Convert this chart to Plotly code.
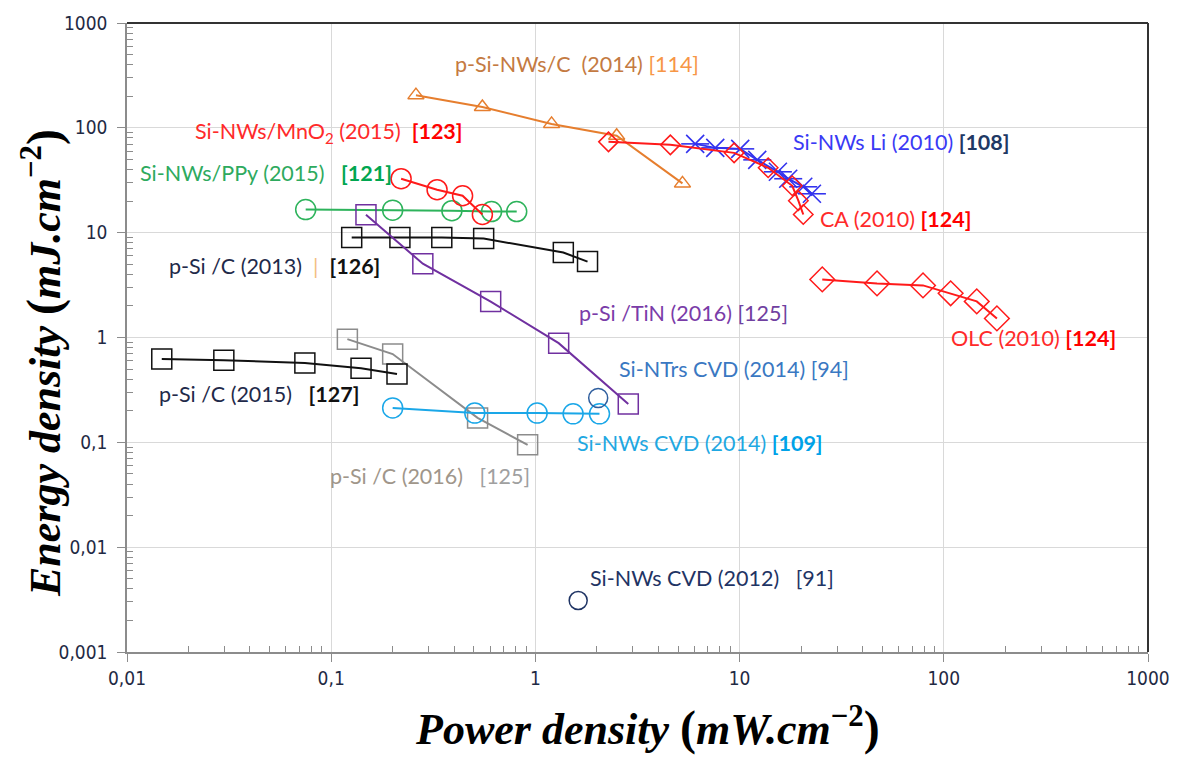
import plotly.graph_objects as go

# ---------------- data ----------------
psinwc_x = [0.26, 0.55, 1.2, 2.5, 5.25]
psinwc_y = [205, 158, 109, 84, 29.5]

mno2_x = [0.22, 0.33, 0.44, 0.55]
mno2_y = [32.7, 25.7, 22.5, 14.9]

ppy_x = [0.075, 0.2, 0.39, 0.61, 0.81]
ppy_y = [16.6, 16.4, 16.2, 15.9, 15.9]

psic2013_x = [0.126, 0.217, 0.348, 0.558, 1.37, 1.8]
psic2013_y = [9.0, 9.0, 9.0, 8.8, 6.46, 5.3]

tin_x = [0.148, 0.281, 0.604, 1.3, 2.85]
tin_y = [14.8, 5.06, 2.2, 0.883, 0.232]

li_x = [6.06, 7.6, 10.07, 12.2, 15.4, 17.3, 20.5, 22.6]
li_y = [70.3, 64.4, 63, 49.5, 38.1, 32.7, 27.4, 23.5]

ca_x = [2.28, 4.58, 9.4, 13.8, 18.1, 19.4, 20.5]
ca_y = [73.5, 68.8, 57.7, 41.6, 28, 20.2, 14.9]

olc_x = [25.4, 47.1, 79.1, 108, 145, 182]
olc_y = [3.58, 3.28, 3.14, 2.64, 2.21, 1.52]

ntrs_x = [2.03]
ntrs_y = [0.265]

cvd2014_x = [0.2, 0.505, 1.02, 1.53, 2.06]
cvd2014_y = [0.213, 0.19, 0.19, 0.187, 0.187]

psic2016_x = [0.12, 0.2, 0.521, 0.916]
psic2016_y = [0.964, 0.695, 0.171, 0.0946]

psic2015_x = [0.0148, 0.0298, 0.0743, 0.14, 0.21]
psic2015_y = [0.622, 0.608, 0.57, 0.51, 0.448]

cvd2012_x = [1.62]
cvd2012_y = [0.0031]

x_tickvals = [0.01, 0.1, 1, 10, 100, 1000]
x_ticktext = ["0,01", "0,1", "1", "10", "100", "1000"]
y_tickvals = [0.001, 0.01, 0.1, 1, 10, 100, 1000]
y_ticktext = ["0,001", "0,01", "0,1", "1", "10", "100", "1000"]

# ---------------- figure ----------------
W, H = 1182, 758
L, R, T, B = 127, 33, 21, 106
PW, PH = W - L - R, H - T - B

fig = go.Figure()


def series(x, y, color, symbol, size, lw=2, mode="lines+markers", mlw=1.5):
    fig.add_trace(go.Scatter(
        x=x, y=y, mode=mode,
        line=dict(color=color, width=lw),
        marker=dict(symbol=symbol, size=size, color=color,
                    line=dict(color=color, width=mlw)),
        showlegend=False, hoverinfo="skip"))


series(psinwc_x, psinwc_y, "#E67E2E", "triangle-up-open", 14)
series(ppy_x, ppy_y, "#2DB35B", "circle-open", 20)
series(psic2013_x, psic2013_y, "#111111", "square-open", 20)
series(tin_x, tin_y, "#7030A0", "square-open", 20)
series(mno2_x, mno2_y, "#FF1A1A", "circle-open", 20)
# star markers: X + horizontal bar
series(li_x, li_y, "#3333EE", "x-thin-open", 18, mlw=1.6)
series(li_x, li_y, "#3333EE", "line-ew-open", 20, lw=0, mode="markers", mlw=1.6)
series(ca_x, ca_y, "#FF1A1A", "diamond-open", 15)
series(olc_x, olc_y, "#FF1A1A", "diamond-open", 19)
series(psic2016_x, psic2016_y, "#8C8C8C", "square-open", 20)
series(psic2015_x, psic2015_y, "#111111", "square-open", 20)
series(cvd2014_x, cvd2014_y, "#1AA7E8", "circle-open", 20)
series(ntrs_x, ntrs_y, "#2F5E9E", "circle-open", 19, mode="markers")
series(cvd2012_x, cvd2012_y, "#1F3464", "circle-open", 18, mode="markers")

# ---------------- labels (pixel positions of the text boxes) ----------------
def S(t, c, b=False):
    s = f'<span style="color:{c}">{t}</span>'
    return f"<b>{s}</b>" if b else s

labels = [
    (S("p-Si-NWs/C&nbsp; (2014)", "#C47A42") + " " + S("[114]", "#F79646"), 453, 62),
    (S("Si-NWs/MnO<sub>2</sub> (2015)", "#FF2A2A") + "  " + S("[123]", "#FF0000", True), 193, 131),
    (S("Si-NWs/PPy (2015)", "#2EAA5E") + "&nbsp;&nbsp; " + S("[121]", "#00A650", True), 138, 171),
    (S("p-Si /C (2013)", "#1F2A4A") + "&nbsp; " + S("|", "#F3C080") + "&nbsp; " + S("[126]", "#111111", True), 167, 265),
    (S("p-Si /TiN (2016)", "#7A3CA8") + " " + S("[125]", "#7040A0"), 577, 312),
    (S("Si-NWs Li (2010)", "#3A3AF5") + " " + S("[108]", "#203864", True), 792, 140),
    (S("CA (2010)", "#FF2A2A") + " " + S("[124]", "#FF0000", True), 819, 218),
    (S("OLC (2010)", "#FF2A2A") + " " + S("[124]", "#FF0000", True), 950, 337),
    (S("Si-NTrs CVD (2014) [94]", "#3A78C2"), 617, 368),
    (S("p-Si /C (2015)", "#1F2A4A") + "&nbsp;&nbsp; " + S("[127]", "#111111", True), 157, 393),
    (S("Si-NWs CVD (2014)", "#1FA8E2") + " " + S("[109]", "#00A2E8", True), 575, 442),
    (S("p-Si /C (2016)", "#A0968A") + "&nbsp;&nbsp; " + S("[125]", "#A0A0A0"), 328, 475),
    (S("Si-NWs CVD (2012)", "#1F3464") + "&nbsp;&nbsp; " + S("[91]", "#1F3464"), 588, 578),
]

LABEL_FONT = dict(family="Lato, 'Open Sans', sans-serif", size=21.5)
for text, px, py in labels:
    fig.add_annotation(
        x=(px - L) / PW, y=(H - B - py) / PH, xref="paper", yref="paper",
        text=text, showarrow=False, xanchor="left", yanchor="middle",
        font=LABEL_FONT)

# axis titles
TITLE_FONT = dict(family="'Liberation Serif', 'DejaVu Serif', serif", size=44, color="#000000")
P = '<span style="font-size:48px">%s</span>'
fig.add_annotation(
    x=(648 - L) / PW, y=(H - B - 727) / PH, xref="paper", yref="paper",
    text="<b><i>Power density</i> " + P % "(" + "<i>mW.cm</i><sup>−2</sup>" + P % ")" + "</b>",
    showarrow=False, xanchor="center", yanchor="middle", font=TITLE_FONT)
fig.add_annotation(
    x=(42 - L) / PW, y=(H - B - 362) / PH, xref="paper", yref="paper",
    text="<b><i>Energy density</i> " + P % "(" + "<i>mJ.cm</i><sup>−2</sup>" + P % ")" + "</b>",
    showarrow=False, xanchor="center", yanchor="middle", textangle=-90,
    font=TITLE_FONT)

# top and right frame lines
fig.add_shape(type="line", xref="paper", yref="paper", x0=0, x1=1, y0=1, y1=1,
              line=dict(color="#333333", width=2))
fig.add_shape(type="line", xref="paper", yref="paper", x0=1, x1=1, y0=0, y1=1,
              line=dict(color="#333333", width=2))

TICK_FONT = dict(family="'Liberation Sans Narrow', 'DejaVu Sans Condensed', sans-serif",
                 size=19, color="#1F2A44")


def minor_vals(lo, hi):
    return [m * 10 ** e for e in range(lo, hi) for m in range(2, 10)]


axis_common = dict(
    type="log", showgrid=True, gridcolor="#D9D9D9", gridwidth=1,
    showline=True, linecolor="#8C8C8C", linewidth=1.5,
    ticks="outside", ticklen=8, tickcolor="#8C8C8C", tickwidth=1.3,
    tickfont=TICK_FONT, zeroline=False,
)
fig.update_xaxes(range=[-2, 3], tickvals=x_tickvals, ticktext=x_ticktext,
                 minor=dict(ticks="inside", ticklen=6, tickcolor="#8C8C8C", tickwidth=1,
                            tickvals=minor_vals(-2, 3), showgrid=False),
                 **axis_common)
fig.update_yaxes(range=[-3, 3], tickvals=y_tickvals, ticktext=y_ticktext,
                 ticklabelstandoff=6,
                 minor=dict(ticks="inside", ticklen=6, tickcolor="#8C8C8C", tickwidth=1,
                            tickvals=minor_vals(-3, 3), showgrid=False),
                 **axis_common)

fig.update_layout(
    width=W, height=H,
    margin=dict(l=L, r=R, t=T, b=B, pad=0),
    paper_bgcolor="white", plot_bgcolor="white",
    showlegend=False,
)

fig.write_html("out.html")
